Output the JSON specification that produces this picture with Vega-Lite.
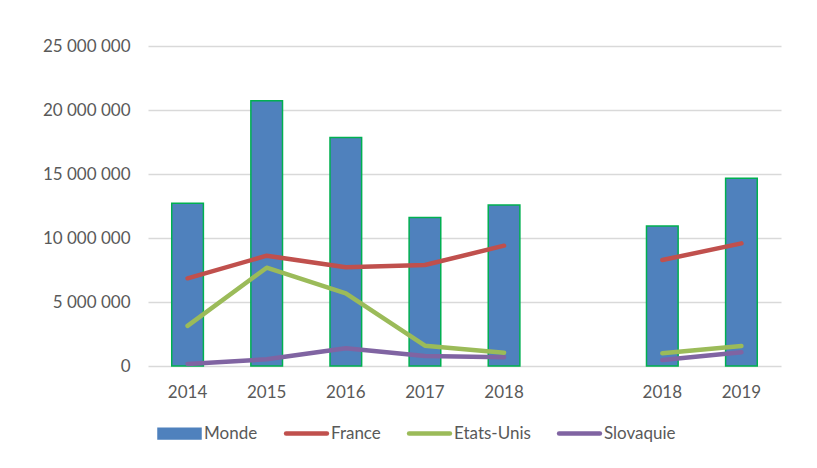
{
  "$schema": "https://vega.github.io/schema/vega-lite/v6.json",
  "width": 633,
  "height": 320,
  "autosize": {"type": "none"},
  "padding": {"left": 148, "top": 46, "right": 36, "bottom": 102},
  "background": "white",
  "config": {
    "view": {"stroke": null},
    "font": "Lato",
    "axis": {"labelFont": "Lato", "labelFontSize": 17, "labelColor": "#595959"},
    "legend": {"labelFont": "Lato", "labelFontSize": 17, "labelColor": "#595959"}
  },
  "data": {
    "values": [
      {"cat": "2014", "seg": "a", "series": "Monde", "value": 12710000},
      {"cat": "2015", "seg": "a", "series": "Monde", "value": 20730000},
      {"cat": "2016", "seg": "a", "series": "Monde", "value": 17860000},
      {"cat": "2017", "seg": "a", "series": "Monde", "value": 11610000},
      {"cat": "2018", "seg": "a", "series": "Monde", "value": 12580000},
      {"cat": "2018b", "seg": "b", "series": "Monde", "value": 10940000},
      {"cat": "2019", "seg": "b", "series": "Monde", "value": 14660000},
      {"cat": "2014", "seg": "a", "series": "France", "value": 6850000},
      {"cat": "2015", "seg": "a", "series": "France", "value": 8620000},
      {"cat": "2016", "seg": "a", "series": "France", "value": 7710000},
      {"cat": "2017", "seg": "a", "series": "France", "value": 7890000},
      {"cat": "2018", "seg": "a", "series": "France", "value": 9400000},
      {"cat": "2018b", "seg": "b", "series": "France", "value": 8280000},
      {"cat": "2019", "seg": "b", "series": "France", "value": 9580000},
      {"cat": "2014", "seg": "a", "series": "Etats-Unis", "value": 3130000},
      {"cat": "2015", "seg": "a", "series": "Etats-Unis", "value": 7680000},
      {"cat": "2016", "seg": "a", "series": "Etats-Unis", "value": 5680000},
      {"cat": "2017", "seg": "a", "series": "Etats-Unis", "value": 1590000},
      {"cat": "2018", "seg": "a", "series": "Etats-Unis", "value": 1040000},
      {"cat": "2018b", "seg": "b", "series": "Etats-Unis", "value": 990000},
      {"cat": "2019", "seg": "b", "series": "Etats-Unis", "value": 1560000},
      {"cat": "2014", "seg": "a", "series": "Slovaquie", "value": 160000},
      {"cat": "2015", "seg": "a", "series": "Slovaquie", "value": 520000},
      {"cat": "2016", "seg": "a", "series": "Slovaquie", "value": 1380000},
      {"cat": "2017", "seg": "a", "series": "Slovaquie", "value": 780000},
      {"cat": "2018", "seg": "a", "series": "Slovaquie", "value": 680000},
      {"cat": "2018b", "seg": "b", "series": "Slovaquie", "value": 470000},
      {"cat": "2019", "seg": "b", "series": "Slovaquie", "value": 1070000}
    ]
  },
  "encoding": {
    "x": {
      "field": "cat",
      "type": "nominal",
      "sort": null,
      "scale": {
        "type": "band",
        "domain": ["2014", "2015", "2016", "2017", "2018", "gap", "2018b", "2019"],
        "paddingInner": 0.6,
        "paddingOuter": 0.3
      },
      "axis": {
        "title": null,
        "labelAngle": 0,
        "ticks": false,
        "domain": false,
        "labelPadding": 18,
        "labelExpr": "datum.value === '2018b' ? '2018' : (datum.value === 'gap' ? '' : datum.value)"
      }
    },
    "y": {
      "field": "value",
      "type": "quantitative",
      "scale": {"domain": [0, 25000000], "nice": false},
      "axis": {
        "title": null,
        "values": [0, 5000000, 10000000, 15000000, 20000000, 25000000],
        "ticks": false,
        "domain": false,
        "labelPadding": 18,
        "gridColor": "#D9D9D9",
        "gridWidth": 1.3,
        "labelExpr": "replace(format(datum.value, ','), regexp(',', 'g'), ' ')"
      }
    },
    "color": {
      "field": "series",
      "type": "nominal",
      "scale": {
        "domain": ["Monde", "France", "Etats-Unis", "Slovaquie"],
        "range": ["#4F81BD", "#C0504D", "#9BBB59", "#8064A2"]
      },
      "legend": {
        "title": null,
        "orient": "none",
        "direction": "horizontal",
        "columns": 4,
        "gridAlign": "none",
        "legendX": 23,
        "legendY": 379,
        "columnPadding": 19,
        "labelOffset": 16,
        "symbolSize": 1849,
        "encode": {
          "symbols": {
            "update": {
              "shape": {"signal": "datum.value === 'Monde' ? 'M-1,-0.25H1V0.25H-1Z' : 'M-0.95,0H0.95'"},
              "fill": {"signal": "datum.value === 'Monde' ? '#4F81BD' : 'transparent'"},
              "stroke": {"signal": "datum.value === 'Monde' ? '#00B050' : scale('color', datum.value)"},
              "strokeWidth": {"signal": "datum.value === 'Monde' ? 1.5 : 4.5"},
              "strokeCap": {"value": "round"},
              "size": {"value": 1849},
              "opacity": {"value": 1}
            }
          }
        }
      }
    }
  },
  "layer": [
    {
      "transform": [{"filter": "datum.series === 'Monde'"}],
      "mark": {"type": "bar", "stroke": "#00B050", "strokeWidth": 1.5}
    },
    {
      "transform": [{"filter": "datum.series !== 'Monde'"}],
      "mark": {"type": "line", "strokeWidth": 4.5, "strokeCap": "round", "strokeJoin": "round"},
      "encoding": {
        "x": {"field": "cat", "type": "nominal", "bandPosition": 0.5, "sort": null},
        "detail": {"field": "seg"}
      }
    }
  ]
}
